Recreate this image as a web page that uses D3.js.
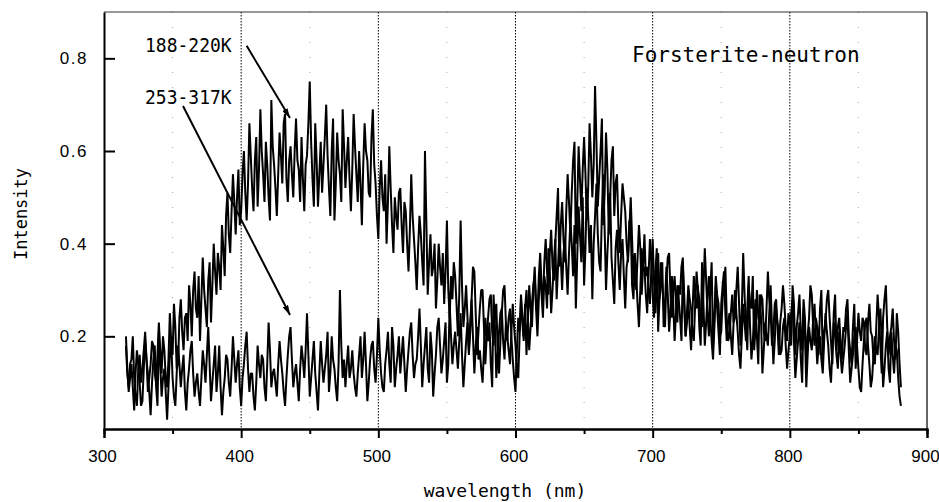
<!DOCTYPE html>
<html>
<head>
<meta charset="utf-8">
<script src="https://cdn.jsdelivr.net/npm/d3@7"></script>
<style>
  body { margin: 0; background: #fff; }
  svg { display: block; }
  .tick text { font-family: "Liberation Sans", Arial, sans-serif; font-size: 17px; fill: #000; }
  .lbl { font-family: "DejaVu Sans Mono", monospace; fill: #000; }
</style>
</head>
<body>
<svg width="939" height="502"></svg>
<script>
// wavelength grid of the spectra (nm), one sample per nm
var wavelengths = d3.range(316, 882);

// 188-220K spectrum, 20 nm per row
var lowTemp = [
  .18,.12,.09,.14,.15,.20,.11,.07,.05,.13,.16,.10,.13,.17,.21,.15,.08,.11,.14,.19,
  .18,.12,.10,.16,.23,.17,.12,.20,.17,.11,.09,.15,.25,.19,.16,.27,.22,.13,.14,.24,
  .28,.21,.17,.24,.25,.19,.31,.27,.20,.30,.34,.26,.24,.33,.19,.28,.37,.30,.26,.22,
  .32,.36,.23,.31,.40,.34,.29,.38,.35,.30,.44,.39,.33,.46,.51,.42,.38,.47,.55,.49,
  .42,.50,.56,.44,.47,.55,.60,.51,.45,.53,.66,.59,.52,.47,.58,.63,.48,.56,.69,.60,
  .55,.49,.62,.57,.50,.45,.71,.61,.57,.52,.46,.55,.64,.59,.53,.66,.68,.54,.49,.58,
  .61,.55,.50,.60,.67,.58,.56,.49,.63,.54,.47,.57,.59,.66,.75,.62,.54,.48,.66,.58,
  .48,.55,.62,.51,.57,.63,.70,.59,.52,.46,.60,.67,.45,.53,.64,.58,.55,.49,.69,.61,
  .52,.58,.63,.54,.47,.56,.68,.61,.55,.49,.60,.53,.44,.57,.66,.60,.58,.51,.50,.63,
  .69,.57,.53,.46,.41,.52,.58,.50,.47,.55,.40,.49,.61,.52,.44,.38,.50,.46,.43,.51,
  .52,.44,.38,.49,.47,.40,.34,.43,.55,.46,.41,.36,.30,.39,.46,.42,.36,.31,.60,.45,
  .29,.36,.42,.33,.35,.40,.26,.32,.40,.35,.31,.38,.27,.34,.45,.30,.24,.33,.28,.36,
  .33,.27,.20,.29,.45,.31,.22,.26,.31,.24,.17,.23,.28,.35,.34,.25,.16,.21,.26,.30,
  .30,.22,.14,.20,.24,.28,.29,.21,.18,.25,.27,.17,.12,.19,.25,.30,.31,.23,.19,.24,
  .26,.20,.15,.11,.08,.17,.24,.21,.28,.23,.19,.26,.30,.24,.17,.22,.27,.31,.33,.26,
  .20,.28,.35,.29,.24,.33,.31,.26,.39,.34,.25,.30,.36,.41,.28,.35,.42,.37,.30,.38,
  .41,.35,.29,.38,.45,.40,.33,.44,.26,.37,.48,.42,.36,.50,.31,.39,.52,.46,.38,.44,
  .28,.40,.46,.53,.42,.36,.34,.47,.55,.43,.30,.38,.44,.51,.37,.32,.27,.39,.43,.36,
  .30,.38,.41,.33,.26,.35,.37,.45,.44,.31,.28,.36,.33,.27,.22,.30,.39,.34,.35,.29,
  .25,.33,.41,.36,.29,.24,.34,.39,.21,.28,.36,.31,.27,.22,.32,.37,.38,.29,.24,.30,
  .33,.27,.23,.31,.29,.35,.37,.26,.20,.25,.31,.28,.26,.21,.19,.27,.34,.30,.28,.23,
  .22,.30,.39,.32,.25,.20,.30,.36,.18,.24,.33,.29,.27,.20,.21,.28,.31,.35,.24,.19,
  .20,.25,.29,.23,.24,.30,.35,.27,.18,.26,.38,.29,.22,.17,.31,.27,.26,.33,.17,.22,
  .30,.24,.23,.29,.28,.21,.19,.26,.34,.28,.25,.18,.21,.27,.28,.22,.16,.23,.26,.31,
  .27,.22,.19,.25,.23,.18,.31,.27,.16,.22,.25,.29,.21,.17,.28,.24,.14,.20,.24,.31,
  .29,.22,.18,.24,.22,.16,.26,.30,.15,.21,.23,.28,.30,.24,.19,.14,.25,.29,.17,.22,
  .24,.19,.15,.22,.21,.26,.28,.20,.17,.14,.22,.27,.13,.19,.25,.21,.19,.24,.23,.17,
  .16,.23,.27,.21,.20,.15,.14,.22,.29,.24,.18,.12,.24,.28,.31,.22,.16,.20,.22,.26,
  .19,.15,.25,.21,.14,.09
];

// 253-317K spectrum, 20 nm per row
var highTemp = [
  .20,.13,.08,.11,.14,.09,.04,.12,.17,.14,.10,.05,.06,.13,.19,.15,.12,.08,.03,.10,
  .15,.18,.09,.05,.21,.14,.07,.11,.13,.08,.02,.09,.16,.19,.11,.07,.05,.12,.18,.14,
  .09,.13,.16,.08,.04,.10,.13,.17,.19,.12,.07,.10,.12,.08,.05,.11,.17,.14,.10,.16,
  .22,.14,.06,.10,.14,.18,.08,.12,.18,.09,.03,.08,.11,.16,.15,.10,.07,.13,.20,.15,
  .10,.14,.17,.09,.05,.11,.14,.18,.21,.13,.08,.12,.12,.07,.04,.10,.18,.14,.11,.16,
  .15,.09,.06,.14,.23,.17,.09,.12,.13,.10,.07,.14,.19,.15,.12,.08,.05,.11,.16,.20,
  .22,.15,.09,.12,.14,.10,.06,.13,.18,.15,.11,.17,.25,.16,.07,.11,.15,.19,.12,.08,
  .04,.12,.19,.14,.10,.13,.16,.21,.08,.12,.20,.15,.13,.09,.06,.14,.30,.18,.11,.15,
  .09,.14,.18,.11,.13,.17,.12,.09,.07,.12,.16,.20,.11,.15,.21,.14,.06,.10,.15,.18,
  .19,.13,.10,.16,.24,.17,.12,.09,.08,.14,.17,.21,.14,.10,.22,.18,.09,.13,.16,.20,
  .12,.16,.20,.14,.08,.13,.17,.21,.23,.16,.11,.14,.15,.20,.26,.18,.09,.14,.18,.22,
  .13,.10,.21,.17,.07,.12,.16,.22,.24,.18,.12,.15,.19,.23,.10,.14,.27,.20,.14,.18,
  .21,.17,.13,.19,.25,.16,.09,.14,.19,.23,.16,.21,.28,.20,.12,.18,.22,.15,.17,.13,
  .10,.17,.24,.20,.19,.23,.14,.09,.29,.22,.11,.16,.21,.25,.26,.19,.15,.23,.20,.17,
  .14,.21,.27,.22,.18,.13,.11,.20,.29,.24,.20,.27,.16,.23,.31,.26,.22,.30,.35,.27,
  .24,.33,.38,.31,.27,.36,.41,.34,.29,.38,.43,.35,.32,.40,.46,.52,.35,.44,.49,.41,
  .36,.47,.55,.49,.42,.51,.58,.62,.40,.48,.61,.54,.47,.56,.63,.55,.45,.52,.66,.59,
  .50,.57,.74,.62,.48,.54,.60,.67,.44,.51,.64,.56,.42,.50,.58,.61,.46,.53,.55,.44,
  .38,.46,.53,.50,.47,.40,.36,.43,.50,.41,.32,.38,.30,.37,.44,.39,.29,.35,.42,.33,
  .35,.30,.27,.34,.41,.32,.25,.31,.38,.28,.31,.36,.22,.27,.35,.29,.21,.26,.33,.27,
  .19,.25,.31,.28,.24,.19,.35,.29,.20,.23,.28,.22,.17,.25,.33,.28,.26,.31,.22,.18,
  .36,.27,.18,.23,.29,.33,.24,.19,.15,.22,.31,.26,.21,.16,.27,.31,.34,.25,.19,.23,
  .25,.20,.16,.23,.30,.25,.21,.16,.13,.20,.27,.23,.19,.26,.33,.22,.15,.19,.24,.28,
  .20,.14,.29,.24,.12,.17,.23,.20,.18,.25,.31,.22,.14,.19,.26,.23,.21,.16,.17,.22,
  .24,.18,.13,.17,.20,.25,.28,.19,.11,.15,.19,.23,.15,.10,.26,.21,.09,.16,.22,.19,
  .17,.24,.27,.20,.14,.18,.20,.15,.12,.19,.25,.21,.18,.13,.10,.17,.23,.20,.16,.13,
  .21,.16,.12,.15,.18,.22,.25,.17,.10,.13,.16,.20,.22,.18,.13,.09,.08,.14,.19,.23,
  .24,.18,.14,.09,.11,.16,.20,.17,.16,.22,.26,.19,.09,.13,.18,.21,.13,.10,.21,.16,
  .12,.18,.17,.11,.07,.05
];

var xTicks = [300, 400, 500, 600, 700, 800, 900],
    xMinor = [350, 450, 550, 650, 750, 850],
    yTicks = [0.2, 0.4, 0.6, 0.8],
    gridMajor = [400, 500, 600, 700, 800];

var svg = d3.select("svg");

var x = d3.scaleLinear().domain([300, 900]).range([104, 927]),
    y = d3.scaleLinear().domain([0, 0.9]).range([429, 12]);

// faint grid at the half hundreds
svg.append("g")
  .selectAll("line")
  .data(xMinor)
  .enter().append("line")
    .attr("x1", x).attr("x2", x)
    .attr("y1", y(0.9)).attr("y2", y(0))
    .attr("stroke", "#aaa")
    .attr("stroke-dasharray", "1,14");

// dotted grid at the hundreds
svg.append("g")
  .selectAll("line")
  .data(gridMajor)
  .enter().append("line")
    .attr("x1", x).attr("x2", x)
    .attr("y1", y(0.9)).attr("y2", y(0))
    .attr("stroke", "#000")
    .attr("stroke-width", 1)
    .attr("stroke-dasharray", "1.5,1.5");

var line = d3.line()
  .x(function(d, i) { return x(wavelengths[i]); })
  .y(function(d) { return y(d); });

[highTemp, lowTemp].forEach(function(s) {
  svg.append("path")
    .datum(s)
    .attr("fill", "none")
    .attr("stroke", "#000")
    .attr("stroke-width", 2)
    .attr("stroke-linejoin", "bevel")
    .attr("d", line);
});

// frame top and right
svg.append("line")
  .attr("x1", x(300)).attr("x2", x(900)).attr("y1", y(0.9)).attr("y2", y(0.9))
  .attr("stroke", "#333").attr("stroke-width", 1);
svg.append("line")
  .attr("x1", x(900)).attr("x2", x(900)).attr("y1", y(0.9)).attr("y2", y(0))
  .attr("stroke", "#333").attr("stroke-width", 1.5);

// axes
var xAxis = svg.append("g")
  .attr("transform", "translate(0," + y(0) + ")")
  .call(d3.axisBottom(x).tickValues(xTicks).tickSize(9).tickPadding(12)
    .tickFormat(d3.format("d")));
var xAxisMinor = svg.append("g")
  .attr("transform", "translate(0," + y(0) + ")")
  .call(d3.axisBottom(x).tickValues(xMinor).tickSize(5).tickFormat(""));
var yAxis = svg.append("g")
  .attr("transform", "translate(" + x(300) + ",0)")
  .call(d3.axisLeft(y).tickValues(yTicks).tickSizeInner(-11).tickSizeOuter(0)
    .tickPadding(16).tickFormat(d3.format(".1f")));

[xAxis, xAxisMinor, yAxis].forEach(function(g) {
  g.select(".domain").attr("stroke", "#000").attr("stroke-width", 2);
  g.selectAll(".tick line").attr("stroke", "#000").attr("stroke-width", 2);
});
yAxis.selectAll(".tick text").attr("letter-spacing", "1.5px");
xAxis.selectAll(".tick text").attr("dx", "-2");

// axis titles
svg.append("text")
  .attr("class", "lbl")
  .attr("x", 505).attr("y", 497)
  .attr("text-anchor", "middle")
  .attr("font-size", 18)
  .text("wavelength (nm)");

svg.append("text")
  .attr("class", "lbl")
  .attr("transform", "translate(27,214) rotate(-90)")
  .attr("text-anchor", "middle")
  .attr("font-size", 17)
  .text("Intensity");

svg.append("text")
  .attr("class", "lbl")
  .attr("x", 632).attr("y", 62)
  .attr("font-size", 21)
  .text("Forsterite-neutron");

// series labels with arrows
svg.append("defs").append("marker")
  .attr("id", "head")
  .attr("viewBox", "0 0 10 6")
  .attr("refX", 10).attr("refY", 3)
  .attr("markerUnits", "userSpaceOnUse")
  .attr("markerWidth", 10).attr("markerHeight", 6)
  .attr("orient", "auto")
  .append("path")
    .attr("d", "M0,0L10,3L0,6z")
    .attr("fill", "#000");

var notes = [
  {text: "188-220K", tx: 145, ty: 52, from: [404, 0.827], to: [435.6, 0.671]},
  {text: "253-317K", tx: 145, ty: 104, from: [357.6, 0.697], to: [435.6, 0.246]}
];

notes.forEach(function(n) {
  svg.append("text")
    .attr("class", "lbl")
    .attr("x", n.tx).attr("y", n.ty)
    .attr("font-size", 18)
    .attr("transform", "translate(0," + n.ty + ") scale(1,1.12) translate(0," + (-n.ty) + ")")
    .text(n.text);
  svg.append("line")
    .attr("x1", x(n.from[0])).attr("y1", y(n.from[1]))
    .attr("x2", x(n.to[0])).attr("y2", y(n.to[1]))
    .attr("stroke", "#000")
    .attr("stroke-width", 2)
    .attr("marker-end", "url(#head)");
});
</script>
</body>
</html>
